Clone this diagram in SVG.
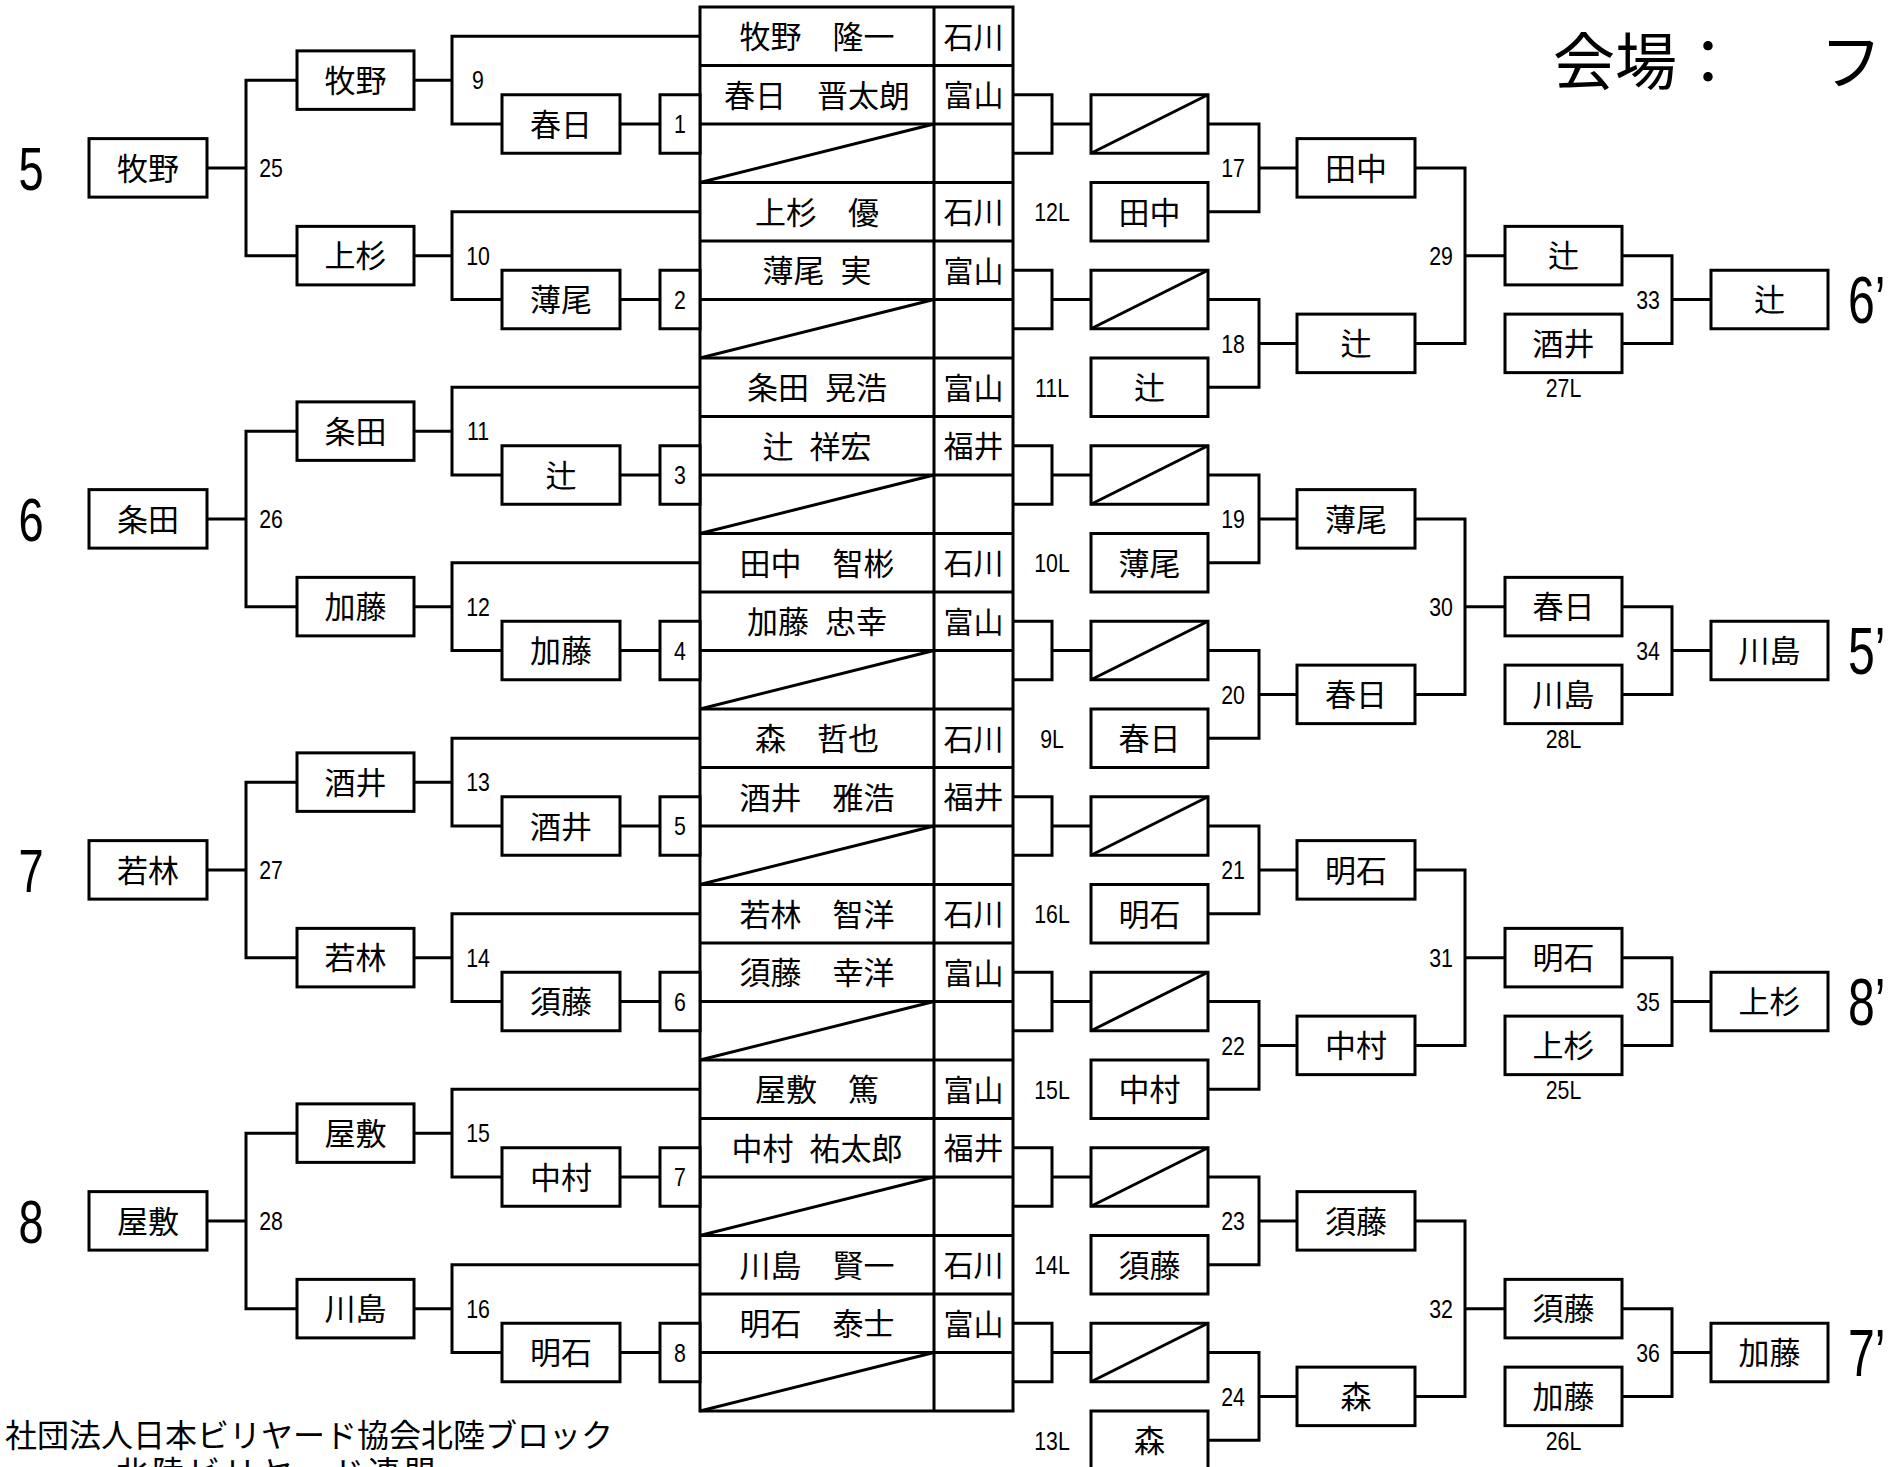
<svg xmlns="http://www.w3.org/2000/svg" width="1892" height="1467" viewBox="0 0 1892 1467">
<style>
.ln{fill:none;stroke:#000;stroke-width:3}
.bx{fill:#fff;stroke:#000;stroke-width:3}
.jp{font-family:"Noto Sans CJK JP","Noto Sans CJK SC",sans-serif;font-size:31px;text-anchor:middle;fill:#000}
.nm{font-family:"Noto Sans CJK JP","Noto Sans CJK SC",sans-serif;font-size:31px;text-anchor:middle;fill:#000;word-spacing:9px}
.pf{font-family:"Noto Sans CJK JP","Noto Sans CJK SC",sans-serif;font-size:30px;text-anchor:middle;fill:#000}
.n{font-family:"Liberation Sans",Arial,sans-serif;font-size:26px;text-anchor:middle;fill:#000}
.big{font-family:"Liberation Sans",Arial,sans-serif;font-size:62px;text-anchor:middle;fill:#000}
.bigr{font-family:"Liberation Sans",Arial,sans-serif;font-size:66px;fill:#000}
.title{font-family:"Noto Sans CJK JP","Noto Sans CJK SC",sans-serif;font-size:62px;fill:#000}
.foot{font-family:"Noto Sans CJK JP","Noto Sans CJK SC",sans-serif;font-size:32px;fill:#000}
</style>
<rect x="0" y="0" width="1892" height="1467" fill="#fff"/>

<g id="connectors" class="ln">
<!-- left blocks -->
<path d="M700 36.25H452V124H502M414 80.125H452M620 124H660"/>
<path d="M700 211.75H452V299.5H502M414 255.625H452M620 299.5H660"/>
<path d="M700 387.25H452V475H502M414 431.125H452M620 475H660"/>
<path d="M700 562.75H452V650.5H502M414 606.625H452M620 650.5H660"/>
<path d="M700 738.25H452V826H502M414 782.125H452M620 826H660"/>
<path d="M700 913.75H452V1001.5H502M414 957.625H452M620 1001.5H660"/>
<path d="M700 1089.25H452V1177H502M414 1133.125H452M620 1177H660"/>
<path d="M700 1264.75H452V1352.5H502M414 1308.625H452M620 1352.5H660"/>
<!-- left groups -->
<path d="M297 80.125H246V255.625H297M207 167.875H246"/>
<path d="M297 431.125H246V606.625H297M207 518.875H246"/>
<path d="M297 782.125H246V957.625H297M207 869.875H246"/>
<path d="M297 1133.125H246V1308.625H297M207 1220.875H246"/>
<!-- right blocks -->
<path d="M1013 94.75H1052V153.25H1013M1052 124H1091M1208 124H1259V211.75H1208M1259 167.875H1297"/>
<path d="M1013 270.25H1052V328.75H1013M1052 299.5H1091M1208 299.5H1259V387.25H1208M1259 343.375H1297"/>
<path d="M1013 445.75H1052V504.25H1013M1052 475H1091M1208 475H1259V562.75H1208M1259 518.875H1297"/>
<path d="M1013 621.25H1052V679.75H1013M1052 650.5H1091M1208 650.5H1259V738.25H1208M1259 694.375H1297"/>
<path d="M1013 796.75H1052V855.25H1013M1052 826H1091M1208 826H1259V913.75H1208M1259 869.875H1297"/>
<path d="M1013 972.25H1052V1030.75H1013M1052 1001.5H1091M1208 1001.5H1259V1089.25H1208M1259 1045.375H1297"/>
<path d="M1013 1147.75H1052V1206.25H1013M1052 1177H1091M1208 1177H1259V1264.75H1208M1259 1220.875H1297"/>
<path d="M1013 1323.25H1052V1381.75H1013M1052 1352.5H1091M1208 1352.5H1259V1440.25H1208M1259 1396.375H1297"/>
<!-- right groups -->
<path d="M1415 167.875H1465V343.375H1415M1465 255.625H1505M1622 255.625H1672V343.375H1622M1672 299.5H1711"/>
<path d="M1415 518.875H1465V694.375H1415M1465 606.625H1505M1622 606.625H1672V694.375H1622M1672 650.5H1711"/>
<path d="M1415 869.875H1465V1045.375H1415M1465 957.625H1505M1622 957.625H1672V1045.375H1622M1672 1001.5H1711"/>
<path d="M1415 1220.875H1465V1396.375H1415M1465 1308.625H1505M1622 1308.625H1672V1396.375H1622M1672 1352.5H1711"/>
</g>

<g id="table">
<rect class="bx" x="700" y="7" width="313" height="1404"/>
<path class="ln" d="M934 7V1411M700 65.5H1013M700 124H1013M700 182.5H1013M700 241H1013M700 299.5H1013M700 358H1013M700 416.5H1013M700 475H1013M700 533.5H1013M700 592H1013M700 650.5H1013M700 709H1013M700 767.5H1013M700 826H1013M700 884.5H1013M700 943H1013M700 1001.5H1013M700 1060H1013M700 1118.5H1013M700 1177H1013M700 1235.5H1013M700 1294H1013M700 1352.5H1013"/>
<path class="ln" d="M700 182.5L934 124M700 358L934 299.5M700 533.5L934 475M700 709L934 650.5M700 884.5L934 826M700 1060L934 1001.5M700 1235.5L934 1177M700 1411L934 1352.5"/>
<g id="row0"><text class="nm" x="817" y="48">牧野　隆一</text><text class="pf" x="973.5" y="47.6">石川</text></g>
<g id="row1"><text class="nm" x="817" y="106.5">春日　晋太朗</text><text class="pf" x="973.5" y="106.1">富山</text></g>
<g id="row3"><text class="nm" x="817" y="223.5">上杉　優</text><text class="pf" x="973.5" y="223.1">石川</text></g>
<g id="row4"><text class="nm" x="817" y="282">薄尾 実</text><text class="pf" x="973.5" y="281.6">富山</text></g>
<g id="row6"><text class="nm" x="817" y="399">条田 晃浩</text><text class="pf" x="973.5" y="398.6">富山</text></g>
<g id="row7"><text class="nm" x="817" y="457.5">辻 祥宏</text><text class="pf" x="973.5" y="457.1">福井</text></g>
<g id="row9"><text class="nm" x="817" y="574.5">田中　智彬</text><text class="pf" x="973.5" y="574.1">石川</text></g>
<g id="row10"><text class="nm" x="817" y="633">加藤 忠幸</text><text class="pf" x="973.5" y="632.6">富山</text></g>
<g id="row12"><text class="nm" x="817" y="750">森　哲也</text><text class="pf" x="973.5" y="749.6">石川</text></g>
<g id="row13"><text class="nm" x="817" y="808.5">酒井　雅浩</text><text class="pf" x="973.5" y="808.1">福井</text></g>
<g id="row15"><text class="nm" x="817" y="925.5">若林　智洋</text><text class="pf" x="973.5" y="925.1">石川</text></g>
<g id="row16"><text class="nm" x="817" y="984">須藤　幸洋</text><text class="pf" x="973.5" y="983.6">富山</text></g>
<g id="row18"><text class="nm" x="817" y="1101">屋敷　篤</text><text class="pf" x="973.5" y="1100.6">富山</text></g>
<g id="row19"><text class="nm" x="817" y="1159.5">中村 祐太郎</text><text class="pf" x="973.5" y="1159.1">福井</text></g>
<g id="row21"><text class="nm" x="817" y="1276.5">川島　賢一</text><text class="pf" x="973.5" y="1276.1">石川</text></g>
<g id="row22"><text class="nm" x="817" y="1335">明石　泰士</text><text class="pf" x="973.5" y="1334.6">富山</text></g>
</g>

<!-- left side: small match boxes -->
<g id="m1"><rect class="bx" x="660" y="94.75" width="40" height="58.5"/><text class="n" transform="translate(680 133.3) scale(.82 1)">1</text></g>
<g id="m2"><rect class="bx" x="660" y="270.25" width="40" height="58.5"/><text class="n" transform="translate(680 308.8) scale(.82 1)">2</text></g>
<g id="m3"><rect class="bx" x="660" y="445.75" width="40" height="58.5"/><text class="n" transform="translate(680 484.3) scale(.82 1)">3</text></g>
<g id="m4"><rect class="bx" x="660" y="621.25" width="40" height="58.5"/><text class="n" transform="translate(680 659.8) scale(.82 1)">4</text></g>
<g id="m5"><rect class="bx" x="660" y="796.75" width="40" height="58.5"/><text class="n" transform="translate(680 835.3) scale(.82 1)">5</text></g>
<g id="m6"><rect class="bx" x="660" y="972.25" width="40" height="58.5"/><text class="n" transform="translate(680 1010.8) scale(.82 1)">6</text></g>
<g id="m7"><rect class="bx" x="660" y="1147.75" width="40" height="58.5"/><text class="n" transform="translate(680 1186.3) scale(.82 1)">7</text></g>
<g id="m8"><rect class="bx" x="660" y="1323.25" width="40" height="58.5"/><text class="n" transform="translate(680 1361.8) scale(.82 1)">8</text></g>

<!-- left side: round-1 winners -->
<g id="w1"><rect class="bx" x="502" y="94.75" width="118" height="58.5"/><text class="jp" x="561" y="135.8">春日</text></g>
<g id="w2"><rect class="bx" x="502" y="270.25" width="118" height="58.5"/><text class="jp" x="561" y="311.3">薄尾</text></g>
<g id="w3"><rect class="bx" x="502" y="445.75" width="118" height="58.5"/><text class="jp" x="561" y="486.8">辻</text></g>
<g id="w4"><rect class="bx" x="502" y="621.25" width="118" height="58.5"/><text class="jp" x="561" y="662.3">加藤</text></g>
<g id="w5"><rect class="bx" x="502" y="796.75" width="118" height="58.5"/><text class="jp" x="561" y="837.8">酒井</text></g>
<g id="w6"><rect class="bx" x="502" y="972.25" width="118" height="58.5"/><text class="jp" x="561" y="1013.3">須藤</text></g>
<g id="w7"><rect class="bx" x="502" y="1147.75" width="118" height="58.5"/><text class="jp" x="561" y="1188.8">中村</text></g>
<g id="w8"><rect class="bx" x="502" y="1323.25" width="118" height="58.5"/><text class="jp" x="561" y="1364.3">明石</text></g>

<!-- left side: round-2 winners -->
<g id="w9"><rect class="bx" x="297" y="50.875" width="117" height="58.5"/><text class="jp" x="355.5" y="91.9">牧野</text><text class="n" transform="translate(478 89.4) scale(.82 1)">9</text></g>
<g id="w10"><rect class="bx" x="297" y="226.375" width="117" height="58.5"/><text class="jp" x="355.5" y="267.4">上杉</text><text class="n" transform="translate(478 264.9) scale(.82 1)">10</text></g>
<g id="w11"><rect class="bx" x="297" y="401.875" width="117" height="58.5"/><text class="jp" x="355.5" y="442.9">条田</text><text class="n" transform="translate(478 440.4) scale(.82 1)">11</text></g>
<g id="w12"><rect class="bx" x="297" y="577.375" width="117" height="58.5"/><text class="jp" x="355.5" y="618.4">加藤</text><text class="n" transform="translate(478 615.9) scale(.82 1)">12</text></g>
<g id="w13"><rect class="bx" x="297" y="752.875" width="117" height="58.5"/><text class="jp" x="355.5" y="793.9">酒井</text><text class="n" transform="translate(478 791.4) scale(.82 1)">13</text></g>
<g id="w14"><rect class="bx" x="297" y="928.375" width="117" height="58.5"/><text class="jp" x="355.5" y="969.4">若林</text><text class="n" transform="translate(478 966.9) scale(.82 1)">14</text></g>
<g id="w15"><rect class="bx" x="297" y="1103.875" width="117" height="58.5"/><text class="jp" x="355.5" y="1144.9">屋敷</text><text class="n" transform="translate(478 1142.4) scale(.82 1)">15</text></g>
<g id="w16"><rect class="bx" x="297" y="1279.375" width="117" height="58.5"/><text class="jp" x="355.5" y="1320.4">川島</text><text class="n" transform="translate(478 1317.9) scale(.82 1)">16</text></g>

<!-- left side: round-3 winners -->
<g id="w25"><rect class="bx" x="89" y="138.625" width="118" height="58.5"/><text class="jp" x="148" y="179.7">牧野</text><text class="n" transform="translate(271 177.2) scale(.82 1)">25</text><text class="big" transform="translate(31 190.1) scale(.73 1)">5</text></g>
<g id="w26"><rect class="bx" x="89" y="489.625" width="118" height="58.5"/><text class="jp" x="148" y="530.7">条田</text><text class="n" transform="translate(271 528.2) scale(.82 1)">26</text><text class="big" transform="translate(31 541.1) scale(.73 1)">6</text></g>
<g id="w27"><rect class="bx" x="89" y="840.625" width="118" height="58.5"/><text class="jp" x="148" y="881.7">若林</text><text class="n" transform="translate(271 879.2) scale(.82 1)">27</text><text class="big" transform="translate(31 892.1) scale(.73 1)">7</text></g>
<g id="w28"><rect class="bx" x="89" y="1191.625" width="118" height="58.5"/><text class="jp" x="148" y="1232.7">屋敷</text><text class="n" transform="translate(271 1230.2) scale(.82 1)">28</text><text class="big" transform="translate(31 1243.1) scale(.73 1)">8</text></g>

<!-- right side: bye boxes -->
<g id="bye1"><rect class="bx" x="1091" y="94.75" width="117" height="58.5"/><path class="ln" d="M1091 153.25L1208 94.75"/></g>
<g id="bye2"><rect class="bx" x="1091" y="270.25" width="117" height="58.5"/><path class="ln" d="M1091 328.75L1208 270.25"/></g>
<g id="bye3"><rect class="bx" x="1091" y="445.75" width="117" height="58.5"/><path class="ln" d="M1091 504.25L1208 445.75"/></g>
<g id="bye4"><rect class="bx" x="1091" y="621.25" width="117" height="58.5"/><path class="ln" d="M1091 679.75L1208 621.25"/></g>
<g id="bye5"><rect class="bx" x="1091" y="796.75" width="117" height="58.5"/><path class="ln" d="M1091 855.25L1208 796.75"/></g>
<g id="bye6"><rect class="bx" x="1091" y="972.25" width="117" height="58.5"/><path class="ln" d="M1091 1030.75L1208 972.25"/></g>
<g id="bye7"><rect class="bx" x="1091" y="1147.75" width="117" height="58.5"/><path class="ln" d="M1091 1206.25L1208 1147.75"/></g>
<g id="bye8"><rect class="bx" x="1091" y="1323.25" width="117" height="58.5"/><path class="ln" d="M1091 1381.75L1208 1323.25"/></g>

<!-- right side: losers entering -->
<g id="l12"><rect class="bx" x="1091" y="182.5" width="117" height="58.5"/><text class="jp" x="1149.5" y="223.5">田中</text><text class="n" transform="translate(1052 221) scale(.82 1)">12L</text></g>
<g id="l11"><rect class="bx" x="1091" y="358" width="117" height="58.5"/><text class="jp" x="1149.5" y="399">辻</text><text class="n" transform="translate(1052 396.5) scale(.82 1)">11L</text></g>
<g id="l10"><rect class="bx" x="1091" y="533.5" width="117" height="58.5"/><text class="jp" x="1149.5" y="574.5">薄尾</text><text class="n" transform="translate(1052 572) scale(.82 1)">10L</text></g>
<g id="l9"><rect class="bx" x="1091" y="709" width="117" height="58.5"/><text class="jp" x="1149.5" y="750">春日</text><text class="n" transform="translate(1052 747.5) scale(.82 1)">9L</text></g>
<g id="l16"><rect class="bx" x="1091" y="884.5" width="117" height="58.5"/><text class="jp" x="1149.5" y="925.5">明石</text><text class="n" transform="translate(1052 923) scale(.82 1)">16L</text></g>
<g id="l15"><rect class="bx" x="1091" y="1060" width="117" height="58.5"/><text class="jp" x="1149.5" y="1101">中村</text><text class="n" transform="translate(1052 1098.5) scale(.82 1)">15L</text></g>
<g id="l14"><rect class="bx" x="1091" y="1235.5" width="117" height="58.5"/><text class="jp" x="1149.5" y="1276.5">須藤</text><text class="n" transform="translate(1052 1274) scale(.82 1)">14L</text></g>
<g id="l13"><rect class="bx" x="1091" y="1411" width="117" height="58.5"/><text class="jp" x="1149.5" y="1452">森</text><text class="n" transform="translate(1052 1449.5) scale(.82 1)">13L</text></g>

<!-- right side: round 17-24 winners -->
<g id="w17"><rect class="bx" x="1297" y="138.625" width="118" height="58.5"/><text class="jp" x="1356" y="179.7">田中</text><text class="n" transform="translate(1233 177.2) scale(.82 1)">17</text></g>
<g id="w18"><rect class="bx" x="1297" y="314.125" width="118" height="58.5"/><text class="jp" x="1356" y="355.2">辻</text><text class="n" transform="translate(1233 352.7) scale(.82 1)">18</text></g>
<g id="w19"><rect class="bx" x="1297" y="489.625" width="118" height="58.5"/><text class="jp" x="1356" y="530.7">薄尾</text><text class="n" transform="translate(1233 528.2) scale(.82 1)">19</text></g>
<g id="w20"><rect class="bx" x="1297" y="665.125" width="118" height="58.5"/><text class="jp" x="1356" y="706.2">春日</text><text class="n" transform="translate(1233 703.7) scale(.82 1)">20</text></g>
<g id="w21"><rect class="bx" x="1297" y="840.625" width="118" height="58.5"/><text class="jp" x="1356" y="881.7">明石</text><text class="n" transform="translate(1233 879.2) scale(.82 1)">21</text></g>
<g id="w22"><rect class="bx" x="1297" y="1016.125" width="118" height="58.5"/><text class="jp" x="1356" y="1057.2">中村</text><text class="n" transform="translate(1233 1054.7) scale(.82 1)">22</text></g>
<g id="w23"><rect class="bx" x="1297" y="1191.625" width="118" height="58.5"/><text class="jp" x="1356" y="1232.7">須藤</text><text class="n" transform="translate(1233 1230.2) scale(.82 1)">23</text></g>
<g id="w24"><rect class="bx" x="1297" y="1367.125" width="118" height="58.5"/><text class="jp" x="1356" y="1408.2">森</text><text class="n" transform="translate(1233 1405.7) scale(.82 1)">24</text></g>

<!-- right side: round 29-32 winners -->
<g id="w29"><rect class="bx" x="1505" y="226.375" width="117" height="58.5"/><text class="jp" x="1563.5" y="267.4">辻</text><text class="n" transform="translate(1441 264.9) scale(.82 1)">29</text></g>
<g id="w30"><rect class="bx" x="1505" y="577.375" width="117" height="58.5"/><text class="jp" x="1563.5" y="618.4">春日</text><text class="n" transform="translate(1441 615.9) scale(.82 1)">30</text></g>
<g id="w31"><rect class="bx" x="1505" y="928.375" width="117" height="58.5"/><text class="jp" x="1563.5" y="969.4">明石</text><text class="n" transform="translate(1441 966.9) scale(.82 1)">31</text></g>
<g id="w32"><rect class="bx" x="1505" y="1279.375" width="117" height="58.5"/><text class="jp" x="1563.5" y="1320.4">須藤</text><text class="n" transform="translate(1441 1317.9) scale(.82 1)">32</text></g>

<!-- right side: losers for 33-36 -->
<g id="l27"><rect class="bx" x="1505" y="314.125" width="117" height="58.5"/><text class="jp" x="1563.5" y="355.2">酒井</text><text class="n" transform="translate(1563.5 397.3) scale(.82 1)">27L</text></g>
<g id="l28"><rect class="bx" x="1505" y="665.125" width="117" height="58.5"/><text class="jp" x="1563.5" y="706.2">川島</text><text class="n" transform="translate(1563.5 748.3) scale(.82 1)">28L</text></g>
<g id="l25"><rect class="bx" x="1505" y="1016.125" width="117" height="58.5"/><text class="jp" x="1563.5" y="1057.2">上杉</text><text class="n" transform="translate(1563.5 1099.3) scale(.82 1)">25L</text></g>
<g id="l26"><rect class="bx" x="1505" y="1367.125" width="117" height="58.5"/><text class="jp" x="1563.5" y="1408.2">加藤</text><text class="n" transform="translate(1563.5 1450.3) scale(.82 1)">26L</text></g>

<!-- right side: finals -->
<g id="w33"><rect class="bx" x="1711" y="270.25" width="117" height="58.5"/><text class="jp" x="1769.5" y="311.3">辻</text><text class="n" transform="translate(1648 308.8) scale(.82 1)">33</text><text class="bigr" transform="translate(1848 323.1) scale(.73 1)">6’</text></g>
<g id="w34"><rect class="bx" x="1711" y="621.25" width="117" height="58.5"/><text class="jp" x="1769.5" y="662.3">川島</text><text class="n" transform="translate(1648 659.8) scale(.82 1)">34</text><text class="bigr" transform="translate(1848 674.1) scale(.73 1)">5’</text></g>
<g id="w35"><rect class="bx" x="1711" y="972.25" width="117" height="58.5"/><text class="jp" x="1769.5" y="1013.3">上杉</text><text class="n" transform="translate(1648 1010.8) scale(.82 1)">35</text><text class="bigr" transform="translate(1848 1025.1) scale(.73 1)">8’</text></g>
<g id="w36"><rect class="bx" x="1711" y="1323.25" width="117" height="58.5"/><text class="jp" x="1769.5" y="1364.3">加藤</text><text class="n" transform="translate(1648 1361.8) scale(.82 1)">36</text><text class="bigr" transform="translate(1848 1376.1) scale(.73 1)">7’</text></g>

<g id="title"><text class="title" x="1553" y="85">会場：<tspan x="1820">フ</tspan></text></g>
<g id="footer">
<text class="foot" x="5" y="1446.7">社団法人日本ビリヤード協会北陸ブロック</text>
<text class="foot" x="116" y="1483.6" textLength="320" lengthAdjust="spacing">北陸ビリヤード連盟</text>
</g>
</svg>
